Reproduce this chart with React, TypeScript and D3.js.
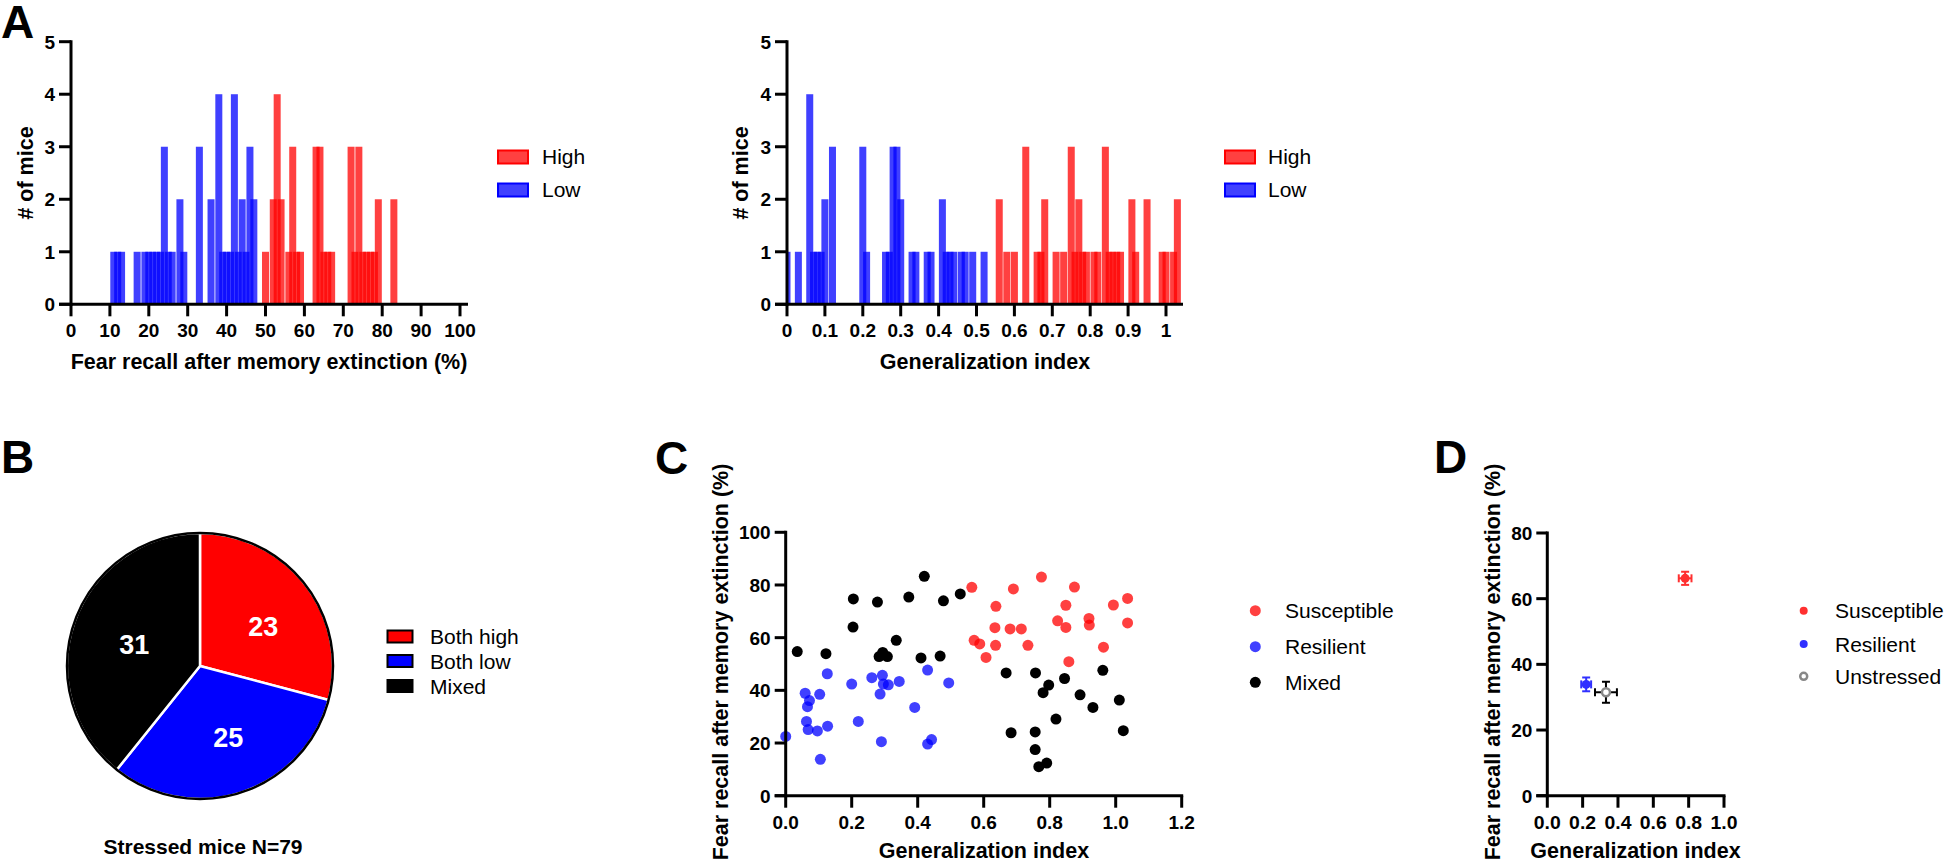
import React from 'react';
import * as d3 from 'd3';

const FONT = "'Liberation Sans', Arial, Helvetica, sans-serif";

// ---------- Panel A data: [bin centre, count] ----------
const fearLowBins: [number, number][] = [
  [11, 1], [12, 1], [13, 1], [17, 1], [19, 1], [20, 1], [21, 1], [22, 1], [23, 1], [24, 3],
  [25, 1], [26, 1], [28, 2], [29, 1], [33, 3], [36, 2], [38, 4], [39, 1], [40, 1], [41, 1],
  [42, 4], [43, 1], [44, 2], [45, 1], [46, 3], [47, 2],
];
const fearHighBins: [number, number][] = [
  [50, 1], [52, 2], [53, 4], [54, 2], [56, 1], [57, 3], [58, 1], [59, 1], [63, 3], [64, 3],
  [65, 1], [66, 1], [67, 1], [72, 3], [73, 1], [74, 3], [75, 1], [76, 1], [77, 1], [78, 1],
  [79, 2], [83, 2],
];
const giLowBins: [number, number][] = [
  [0.0, 1], [0.03, 1], [0.06, 4], [0.07, 1], [0.08, 1], [0.09, 1], [0.10, 2], [0.12, 3],
  [0.20, 3], [0.21, 1], [0.26, 1], [0.27, 1], [0.28, 3], [0.29, 3], [0.30, 2], [0.33, 1],
  [0.34, 1], [0.37, 1], [0.38, 1], [0.41, 2], [0.42, 1], [0.43, 1], [0.44, 1], [0.46, 1],
  [0.47, 1], [0.49, 1], [0.52, 1],
];
const giHighBins: [number, number][] = [
  [0.56, 2], [0.58, 1], [0.60, 1], [0.63, 3], [0.66, 1], [0.67, 1], [0.68, 2], [0.71, 1],
  [0.73, 1], [0.75, 3], [0.76, 1], [0.77, 2], [0.78, 1], [0.79, 1], [0.81, 1], [0.82, 1],
  [0.84, 3], [0.85, 1], [0.86, 1], [0.87, 1], [0.88, 1], [0.91, 2], [0.92, 1], [0.95, 2],
  [0.99, 1], [1.00, 1], [1.02, 1], [1.03, 2],
];
const fearTicks = [0, 10, 20, 30, 40, 50, 60, 70, 80, 90, 100];
const giTicks = [0, 0.1, 0.2, 0.3, 0.4, 0.5, 0.6, 0.7, 0.8, 0.9, 1];
const giTickLabels = ['0', '0.1', '0.2', '0.3', '0.4', '0.5', '0.6', '0.7', '0.8', '0.9', '1'];
const histYTicks = [0, 1, 2, 3, 4, 5];
const histLegend = ['High', 'Low'];

// ---------- Panel B data ----------
const pieValues = [23, 25, 31];
const pieLabels = ['Both high', 'Both low', 'Mixed'];
const pieColors = ['#ff0000', '#0000ff', '#000000'];

// ---------- Panel C data: [generalization index, fear recall %] ----------
const susceptible: [number, number][] = [
  [0.564, 79.1], [0.571, 59.0], [0.588, 57.6], [0.607, 52.5], [0.637, 71.9], [0.634, 63.8],
  [0.636, 57.1], [0.690, 78.5], [0.680, 63.3], [0.714, 63.3], [0.734, 57.1], [0.775, 83.0],
  [0.824, 66.4], [0.849, 72.3], [0.849, 63.9], [0.858, 50.9], [0.875, 79.2], [0.919, 67.3],
  [0.920, 64.8], [0.963, 56.4], [0.993, 72.4], [1.036, 74.9], [1.036, 65.6],
];
const resilient: [number, number][] = [
  [0.0, 22.5], [0.059, 38.9], [0.072, 36.1], [0.066, 33.8], [0.063, 28.2], [0.068, 25.1],
  [0.103, 38.5], [0.096, 24.6], [0.105, 13.8], [0.126, 46.3], [0.127, 26.4], [0.200, 42.4],
  [0.220, 28.2], [0.261, 44.8], [0.293, 45.7], [0.296, 42.4], [0.311, 42.1], [0.286, 38.6],
  [0.290, 20.5], [0.344, 43.4], [0.391, 33.5], [0.430, 47.7], [0.430, 19.6], [0.442, 21.3],
  [0.494, 42.8],
];
const mixed: [number, number][] = [
  [0.035, 54.7], [0.122, 53.9], [0.205, 74.7], [0.204, 64.0], [0.278, 73.5], [0.283, 52.8],
  [0.294, 54.4], [0.308, 52.8], [0.335, 59.0], [0.373, 75.4], [0.420, 83.3], [0.410, 52.3],
  [0.478, 74.0], [0.468, 53.0], [0.529, 76.6], [0.668, 46.6], [0.683, 23.9], [0.757, 46.6],
  [0.756, 24.2], [0.756, 17.5], [0.767, 11.0], [0.791, 12.4], [0.780, 39.1], [0.797, 42.0],
  [0.819, 29.1], [0.845, 44.5], [0.892, 38.3], [0.931, 33.5], [0.961, 47.6], [1.011, 36.3],
  [1.023, 24.7],
];
const cXTicks = [0, 0.2, 0.4, 0.6, 0.8, 1.0, 1.2];
const cYTicks = [0, 20, 40, 60, 80, 100];
const cLegend = ['Susceptible', 'Resilient', 'Mixed'];

// ---------- Panel D data: mean ± SEM ----------
const dNames = ['Susceptible', 'Resilient', 'Unstressed'];
const dMeanX = [0.78, 0.22, 0.332];
const dMeanY = [66.2, 33.9, 31.5];
const dErrX = [0.036, 0.028, 0.062];
const dErrY = [2.0, 2.1, 3.2];
const dXTicks = [0, 0.2, 0.4, 0.6, 0.8, 1.0];
const dYTicks = [0, 20, 40, 60, 80];

const RED = '#ff0000';
const BLUE = '#0000ff';

function Histogram({ xs, ys, xEnd, ticks, tickLabels, low, high, barW, xLabel, xLabelX, yLabelX, legendX, legendTextX }: any) {
  const y0 = ys(0);
  const x0 = xs(0);
  const bar = (d: [number, number], i: number, color: string) => {
    const a = Math.max(xs(d[0] - barW / 2), x0);
    const b = xs(d[0] + barW / 2);
    return <rect key={color + i} x={a} y={ys(d[1])} width={b - a} height={y0 - ys(d[1])} fill={color} fillOpacity={0.75} />;
  };
  return (
    <g>
      {low.map((d: any, i: number) => bar(d, i, BLUE))}
      {high.map((d: any, i: number) => bar(d, i, RED))}
      <line x1={x0} x2={x0} y1={y0} y2={ys(5)} stroke="#000" strokeWidth={3} strokeLinecap="square" />
      <line x1={x0 - 12} x2={xEnd} y1={y0} y2={y0} stroke="#000" strokeWidth={3} />
      {histYTicks.map((t) => (
        <g key={'y' + t}>
          <line x1={x0 - 12} x2={x0} y1={ys(t)} y2={ys(t)} stroke="#000" strokeWidth={3} />
          <text x={x0 - 16} y={ys(t)} dy="0.36em" textAnchor="end" fontSize={19} fontWeight="bold">{t}</text>
        </g>
      ))}
      {ticks.map((t: number, i: number) => (
        <g key={'x' + t}>
          <line x1={xs(t)} x2={xs(t)} y1={y0} y2={y0 + 12} stroke="#000" strokeWidth={3} />
          <text x={xs(t)} y={y0 + 33} textAnchor="middle" fontSize={19} fontWeight="bold">{tickLabels[i]}</text>
        </g>
      ))}
      <text x={xLabelX} y={369} textAnchor="middle" fontSize={21.5} fontWeight="bold">{xLabel}</text>
      <text transform={`translate(${yLabelX},173) rotate(-90)`} textAnchor="middle" fontSize={21.5} fontWeight="bold"># of mice</text>
      {histLegend.map((name, i) => {
        const cy = [157, 190][i];
        const col = i === 0 ? RED : BLUE;
        return (
          <g key={name}>
            <rect x={legendX} y={cy - 6.5} width={30} height={13} fill={col} fillOpacity={0.75} stroke={col} strokeWidth={2} />
            <text x={legendTextX} y={cy} dy="0.35em" fontSize={21}>{name}</text>
          </g>
        );
      })}
    </g>
  );
}

export default function App() {
  // Panel A scales
  const xsFear = d3.scaleLinear().domain([0, 100]).range([71, 460]);
  const ysHist = d3.scaleLinear().domain([0, 5]).range([304.3, 41.7]);
  const xsGi = d3.scaleLinear().domain([0, 1]).range([787, 1166]);

  // Panel B
  const pie = d3.pie<number>().sort(null).value((d) => d)(pieValues);
  const R = 133;
  const arc = d3.arc<d3.PieArcDatum<number>>().innerRadius(0).outerRadius(R);
  const labelPos: [number, number][] = [[63.3, -39.7], [28.3, 71.3], [-65.7, -22]];
  const pcx = 200, pcy = 666;

  // Panel C
  const xsC = d3.scaleLinear().domain([0, 1.2]).range([785.7, 1181.7]);
  const ysC = d3.scaleLinear().domain([0, 100]).range([795.7, 532.3]);

  // Panel D
  const xsD = d3.scaleLinear().domain([0, 1]).range([1547.3, 1724]);
  const ysD = d3.scaleLinear().domain([0, 80]).range([795.7, 533]);
  const dColors = ['#ff3030', '#3030ff', '#888888'];
  const dErrColors = ['#ff3030', '#3030ff', '#000000'];

  const cLegendY = [610.7, 646.7, 682.3];
  const dLegendY = [610.7, 644, 676.3];

  return (
    <svg width={1944} height={864} style={{ position: 'absolute', left: 0, top: 0, background: '#fff' }} fontFamily={FONT}>
      <rect x={0} y={0} width={1944} height={864} fill="#fff" />
      {/* Panel letters */}
      <text x={1} y={38} fontSize={46} fontWeight="bold">A</text>
      <text x={1} y={473} fontSize={46} fontWeight="bold">B</text>
      <text x={655} y={474} fontSize={46} fontWeight="bold">C</text>
      <text x={1434} y={473} fontSize={46} fontWeight="bold">D</text>

      {/* Panel A */}
      <Histogram xs={xsFear} ys={ysHist} xEnd={468} ticks={fearTicks} tickLabels={fearTicks.map(String)}
        low={fearLowBins} high={fearHighBins} barW={1.8} xLabel="Fear recall after memory extinction (%)"
        xLabelX={269} yLabelX={33} legendX={498} legendTextX={542} />
      <Histogram xs={xsGi} ys={ysHist} xEnd={1183} ticks={giTicks} tickLabels={giTickLabels}
        low={giLowBins} high={giHighBins} barW={0.0185} xLabel="Generalization index"
        xLabelX={985} yLabelX={748} legendX={1225} legendTextX={1268} />

      {/* Panel B */}
      <g transform={`translate(${pcx},${pcy})`}>
        {pie.map((p, i) => (
          <path key={i} d={arc(p) || ''} fill={pieColors[i]} stroke="#fff" strokeWidth={2.5} strokeLinejoin="round" />
        ))}
        <circle r={R} fill="none" stroke="#000" strokeWidth={2.5} />
        {pie.map((p, i) => (
          <text key={'l' + i} x={labelPos[i][0]} y={labelPos[i][1]} dy="0.36em" textAnchor="middle" fill="#fff" fontSize={27} fontWeight="bold">{p.data}</text>
        ))}
      </g>
      {pieLabels.map((name, i) => {
        const cy = [636.5, 661, 686][i];
        return (
          <g key={name}>
            <rect x={387.5} y={cy - 6} width={25} height={12} fill={pieColors[i]} stroke="#000" strokeWidth={2} />
            <text x={430} y={cy} dy="0.36em" fontSize={21}>{name}</text>
          </g>
        );
      })}
      <text x={203} y={854} textAnchor="middle" fontSize={21} fontWeight="bold">Stressed mice N=79</text>

      {/* Panel C */}
      <g>
        {mixed.map((d, i) => <circle key={'m' + i} cx={xsC(d[0])} cy={ysC(d[1])} r={5.5} fill="#000" />)}
        {susceptible.map((d, i) => <circle key={'s' + i} cx={xsC(d[0])} cy={ysC(d[1])} r={5.5} fill={RED} fillOpacity={0.75} />)}
        {resilient.map((d, i) => <circle key={'r' + i} cx={xsC(d[0])} cy={ysC(d[1])} r={5.5} fill={BLUE} fillOpacity={0.75} />)}
        <line x1={xsC(0)} x2={xsC(0)} y1={ysC(0)} y2={ysC(100)} stroke="#000" strokeWidth={3} strokeLinecap="square" />
        <line x1={xsC(0) - 11} x2={xsC(1.2) + 1.5} y1={ysC(0)} y2={ysC(0)} stroke="#000" strokeWidth={3} />
        {cYTicks.map((t) => (
          <g key={'cy' + t}>
            <line x1={xsC(0) - 11} x2={xsC(0)} y1={ysC(t)} y2={ysC(t)} stroke="#000" strokeWidth={3} />
            <text x={xsC(0) - 15} y={ysC(t)} dy="0.36em" textAnchor="end" fontSize={19} fontWeight="bold">{t}</text>
          </g>
        ))}
        {cXTicks.map((t) => (
          <g key={'cx' + t}>
            <line x1={xsC(t)} x2={xsC(t)} y1={ysC(0)} y2={ysC(0) + 12} stroke="#000" strokeWidth={3} />
            <text x={xsC(t)} y={ysC(0) + 33} textAnchor="middle" fontSize={19} fontWeight="bold">{t.toFixed(1)}</text>
          </g>
        ))}
        <text x={984} y={858} textAnchor="middle" fontSize={21.5} fontWeight="bold">Generalization index</text>
        <text transform="translate(728,662) rotate(-90)" textAnchor="middle" fontSize={21.5} fontWeight="bold">Fear recall after memory extinction (%)</text>
        {cLegend.map((name, i) => (
          <g key={name}>
            <circle cx={1255.3} cy={cLegendY[i]} r={5.5} fill={[RED, BLUE, '#000'][i]} fillOpacity={i < 2 ? 0.75 : 1} />
            <text x={1285} y={cLegendY[i]} dy="0.36em" fontSize={21}>{name}</text>
          </g>
        ))}
      </g>

      {/* Panel D */}
      <g>
        {dNames.map((name, i) => {
          const cx = xsD(dMeanX[i]);
          const cy = ysD(dMeanY[i]);
          const xl = xsD(dMeanX[i] - dErrX[i]);
          const xr = xsD(dMeanX[i] + dErrX[i]);
          const yt = ysD(dMeanY[i] + dErrY[i]);
          const yb = ysD(dMeanY[i] - dErrY[i]);
          const ec = dErrColors[i];
          return (
            <g key={name}>
              <line x1={xl} x2={xr} y1={cy} y2={cy} stroke={ec} strokeWidth={2} />
              <line x1={cx} x2={cx} y1={yt} y2={yb} stroke={ec} strokeWidth={2} />
              <line x1={xl} x2={xl} y1={cy - 4} y2={cy + 4} stroke={ec} strokeWidth={2} />
              <line x1={xr} x2={xr} y1={cy - 4} y2={cy + 4} stroke={ec} strokeWidth={2} />
              <line x1={cx - 4} x2={cx + 4} y1={yt} y2={yt} stroke={ec} strokeWidth={2} />
              <line x1={cx - 4} x2={cx + 4} y1={yb} y2={yb} stroke={ec} strokeWidth={2} />
              {i < 2 ? (
                <circle cx={cx} cy={cy} r={4.5} fill={dColors[i]} />
              ) : (
                <circle cx={cx} cy={cy} r={4} fill="#fff" stroke={dColors[i]} strokeWidth={2.5} />
              )}
            </g>
          );
        })}
        <line x1={xsD(0)} x2={xsD(0)} y1={ysD(0)} y2={ysD(80)} stroke="#000" strokeWidth={3} strokeLinecap="square" />
        <line x1={xsD(0) - 11} x2={xsD(1) + 1.5} y1={ysD(0)} y2={ysD(0)} stroke="#000" strokeWidth={3} />
        {dYTicks.map((t) => (
          <g key={'dy' + t}>
            <line x1={xsD(0) - 11} x2={xsD(0)} y1={ysD(t)} y2={ysD(t)} stroke="#000" strokeWidth={3} />
            <text x={xsD(0) - 15} y={ysD(t)} dy="0.36em" textAnchor="end" fontSize={19} fontWeight="bold">{t}</text>
          </g>
        ))}
        {dXTicks.map((t) => (
          <g key={'dx' + t}>
            <line x1={xsD(t)} x2={xsD(t)} y1={ysD(0)} y2={ysD(0) + 12} stroke="#000" strokeWidth={3} />
            <text x={xsD(t)} y={ysD(0) + 33} textAnchor="middle" fontSize={19} fontWeight="bold" textLength={27} lengthAdjust="spacingAndGlyphs">{t.toFixed(1)}</text>
          </g>
        ))}
        <text x={1635.5} y={858} textAnchor="middle" fontSize={21.5} fontWeight="bold">Generalization index</text>
        <text transform="translate(1500,662) rotate(-90)" textAnchor="middle" fontSize={21.5} fontWeight="bold">Fear recall after memory extinction (%)</text>
        {dNames.map((name, i) => (
          <g key={'dl' + name}>
            {i < 2 ? (
              <circle cx={1803.7} cy={dLegendY[i]} r={4} fill={dColors[i]} />
            ) : (
              <circle cx={1803.7} cy={dLegendY[i]} r={3.5} fill="#fff" stroke={dColors[i]} strokeWidth={2.5} />
            )}
            <text x={1835} y={dLegendY[i]} dy="0.36em" fontSize={21}>{name}</text>
          </g>
        ))}
      </g>
    </svg>
  );
}
